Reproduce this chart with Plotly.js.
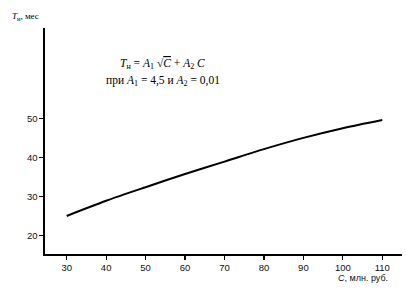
<!DOCTYPE html>
<html><head><meta charset="utf-8">
<script src="https://cdn.plot.ly/plotly-3.0.1.min.js"></script>
<style>html,body{margin:0;padding:0;background:#fff}#c{width:406px;height:291px}</style>
</head><body><div id="c"></div>
<script>
const costC = [30, 40, 50, 60, 70, 80, 90, 100, 110];
const termT = [25.0, 28.9, 32.4, 35.8, 39.0, 42.2, 45.1, 47.6, 49.7];
const xTicks = [30, 40, 50, 60, 70, 80, 90, 100, 110];
const yTicks = [20, 30, 40, 50];

const fnt = {family: 'Liberation Sans, Arial, sans-serif', size: 9.5, color: '#111'};
Plotly.newPlot('c', [{
  x: costC, y: termT, type: 'scatter', mode: 'lines',
  line: {color: '#000', width: 2, shape: 'spline', smoothing: 0.8}, hoverinfo: 'none'
}], {
  width: 406, height: 291,
  margin: {l: 45, r: 4, t: 28, b: 37},
  paper_bgcolor: '#fff', plot_bgcolor: '#fff',
  showlegend: false,
  xaxis: {range: [24.5, 115], tickvals: xTicks, ticks: 'outside', ticklen: 4, tickwidth: 1.2,
    tickcolor: '#000', showline: true, linecolor: '#000', linewidth: 1.6, showgrid: false,
    zeroline: false, tickfont: fnt},
  yaxis: {range: [15.2, 73.4], tickvals: yTicks, ticks: 'outside', ticklen: 4, tickwidth: 1.2,
    tickcolor: '#000', showline: true, linecolor: '#000', linewidth: 1.6, showgrid: false,
    zeroline: false, tickfont: fnt},
  annotations: [
    {xref: 'paper', yref: 'paper', x: 0, y: 1, xshift: -35, yshift: 4, xanchor: 'left', yanchor: 'bottom',
     showarrow: false, text: '<i>T</i><sub>н</sub>, мес', font: {family: 'Liberation Serif, serif', size: 9, color: '#000'}},
    {xref: 'paper', yref: 'paper', x: 1, y: 0, xshift: -12, yshift: -17, xanchor: 'right', yanchor: 'top',
     showarrow: false, text: '<i>C</i>, млн. руб.', font: {family: 'Liberation Sans, sans-serif', size: 9, color: '#111'}},
    {xref: 'paper', yref: 'paper', x: 0.33, y: 0.84, xanchor: 'center', yanchor: 'middle',
     showarrow: false, text: '<i>T</i><sub>н</sub> = <i>A</i><sub>1</sub> √<span style="text-decoration:overline"><i>C</i></span> + <i>A</i><sub>2</sub> <i>C</i>',
     font: {family: 'Liberation Serif, serif', size: 11.5, color: '#000'}},
    {xref: 'paper', yref: 'paper', x: 0.33, y: 0.765, xanchor: 'center', yanchor: 'middle',
     showarrow: false, text: 'при <i>A</i><sub>1</sub> = 4,5 и <i>A</i><sub>2</sub> = 0,01',
     font: {family: 'Liberation Serif, serif', size: 11.5, color: '#000'}}
  ]
}, {staticPlot: true});
</script></body></html>
